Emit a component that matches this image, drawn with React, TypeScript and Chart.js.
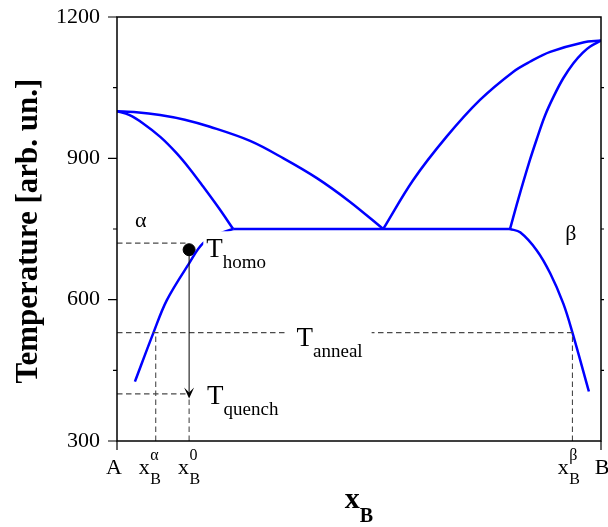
import { useEffect, useRef } from 'react';
import { Chart, registerables } from 'chart.js';

Chart.register(...registerables);

// Phase boundaries of the A–B eutectic system (x = mole fraction of B, y = temperature)
const liquidusLeft = [
  { x: 0, y: 1000 }, { x: 0.04, y: 998 }, { x: 0.089, y: 992 }, { x: 0.14, y: 982 },
  { x: 0.192, y: 967 }, { x: 0.275, y: 937 }, { x: 0.344, y: 900 }, { x: 0.413, y: 858 },
  { x: 0.481, y: 808 }, { x: 0.55, y: 750 },
];
const solidusLeft = [
  { x: 0, y: 1000 }, { x: 0.025, y: 992 }, { x: 0.054, y: 974 }, { x: 0.09, y: 945 },
  { x: 0.123, y: 911 }, { x: 0.15, y: 878 }, { x: 0.178, y: 840 }, { x: 0.21, y: 795 },
  { x: 0.24, y: 750 },
];
const solvusLeft = [
  { x: 0.037, y: 426 }, { x: 0.075, y: 529 }, { x: 0.103, y: 599 }, { x: 0.149, y: 677 },
  { x: 0.178, y: 720 }, { x: 0.216, y: 742 }, { x: 0.24, y: 750 },
];
const eutecticLine = [{ x: 0.24, y: 750 }, { x: 0.812, y: 750 }];
const liquidusRight = [
  { x: 0.55, y: 750 }, { x: 0.612, y: 854 }, { x: 0.681, y: 946 }, { x: 0.75, y: 1024 },
  { x: 0.819, y: 1084 }, { x: 0.853, y: 1105 }, { x: 0.895, y: 1126 }, { x: 0.963, y: 1146 },
  { x: 1, y: 1150 },
];
const solidusRight = [
  { x: 0.812, y: 750 }, { x: 0.829, y: 813 }, { x: 0.853, y: 896 }, { x: 0.867, y: 940 },
  { x: 0.884, y: 990 }, { x: 0.902, y: 1031 }, { x: 0.922, y: 1070 }, { x: 0.943, y: 1102 },
  { x: 0.962, y: 1124 }, { x: 0.977, y: 1137 }, { x: 1, y: 1150 },
];
const solvusRight = [
  { x: 0.812, y: 750 }, { x: 0.833, y: 743 }, { x: 0.867, y: 705 }, { x: 0.895, y: 656 },
  { x: 0.922, y: 592 }, { x: 0.941, y: 530 }, { x: 0.975, y: 405 },
];

// Heat-treatment path
const xAlpha = 0.08;
const xZero = 0.149;
const xBeta = 0.941;
const homoTemp = 720;
const homoPoint = [{ x: 0.149, y: 706 }];
const quenchTemp = 400;
const arrowTipTemp = 390;
const annealTemp = 530;

// Axis ticks
const yMajorTicks = [300, 600, 900, 1200];
const yMinorTicks = [450, 750, 1050];
const xTickLabels = [
  { value: 0, base: 'A', sub: '', sup: '', dx: -3 },
  { value: xAlpha, base: 'x', sub: 'B', sup: 'α', dx: -6 },
  { value: xZero, base: 'x', sub: 'B', sup: '0', dx: 0 },
  { value: xBeta, base: 'x', sub: 'B', sup: 'β', dx: -3.5 },
  { value: 1, base: 'B', sub: '', sup: '', dx: 1 },
];

const SERIF = '"Liberation Serif", "Times New Roman", serif';
const BLUE = '#0000ff';
const DASH = '#4a4a4a';

function drawScripted(
  ctx: CanvasRenderingContext2D, x: number, y: number,
  base: string, sub: string, sup: string,
  mainFont: string, scriptFont: string, align: 'left' | 'center',
  subDy: number, supDy: number, scriptGap = 0,
) {
  ctx.font = mainFont;
  const bw = ctx.measureText(base).width;
  ctx.font = scriptFont;
  const sw = Math.max(sub ? ctx.measureText(sub).width : 0, sup ? ctx.measureText(sup).width : 0);
  const total = bw + (sw ? sw + scriptGap : 0);
  const x0 = align === 'center' ? x - total / 2 : x;
  ctx.textAlign = 'left';
  ctx.textBaseline = 'alphabetic';
  ctx.font = mainFont;
  ctx.fillText(base, x0, y);
  ctx.font = scriptFont;
  if (sub) ctx.fillText(sub, x0 + bw + scriptGap, y + subDy);
  if (sup) ctx.fillText(sup, x0 + bw + scriptGap, y + supDy);
  return { left: x0, width: total };
}

const decorations = {
  id: 'phaseDecorations',
  afterDatasetsDraw(chart: any) {
    const { ctx, chartArea: a, scales } = chart;
    const xs = scales.x;
    const ys = scales.y;
    const px = (v: number) => xs.getPixelForValue(v);
    const py = (v: number) => ys.getPixelForValue(v);
    ctx.save();

    // quench arrow
    const ax = px(homoPoint[0].x);
    const tip = py(arrowTipTemp);
    ctx.strokeStyle = '#000';
    ctx.lineWidth = 1;
    ctx.beginPath();
    ctx.moveTo(ax, py(homoPoint[0].y));
    ctx.lineTo(ax, tip - 6);
    ctx.stroke();
    ctx.fillStyle = '#000';
    ctx.beginPath();
    ctx.moveTo(ax, tip);
    ctx.lineTo(ax - 5, tip - 11);
    ctx.lineTo(ax, tip - 6);
    ctx.lineTo(ax + 5, tip - 11);
    ctx.closePath();
    ctx.fill();

    // labels inside the plot, on white boxes
    const main = `27px ${SERIF}`;
    const script = `19px ${SERIF}`;
    const boxes = [
      { x: 0.1845, y: 690, base: 'T', sub: 'homo', pad: [3, 26, 2, 13] },
      { x: 0.371, y: 502, base: 'T', sub: 'anneal', pad: [11, 21, 9, 22] },
      { x: 0.186, y: 378, base: 'T', sub: 'quench', pad: [3, 19, 2, 13] },
    ];
    boxes.forEach((b) => {
      const bx = px(b.x);
      const by = py(b.y);
      ctx.font = main;
      const bw = ctx.measureText(b.base).width;
      ctx.font = script;
      const sw = ctx.measureText(b.sub).width;
      ctx.fillStyle = '#fff';
      ctx.fillRect(bx - b.pad[0], by - b.pad[1], bw + sw + b.pad[0] + b.pad[2], b.pad[1] + b.pad[3]);
      ctx.fillStyle = '#000';
      drawScripted(ctx, bx, by, b.base, b.sub, '', main, script, 'left', 11, 0);
    });

    ctx.font = `22px ${SERIF}`;
    ctx.textAlign = 'left';
    ctx.textBaseline = 'alphabetic';
    ctx.fillText('α', px(0.037), py(754));
    ctx.fillText('β', px(0.926), py(727));

    // frame
    ctx.strokeStyle = '#000';
    ctx.lineWidth = 1.5;
    ctx.strokeRect(a.left, a.top, a.right - a.left, a.bottom - a.top);

    // y ticks: long outward majors on the left, short minors; short ticks on the right
    ctx.lineWidth = 1.2;
    ctx.beginPath();
    yMajorTicks.forEach((t) => {
      const y = py(t);
      ctx.moveTo(a.left - 9, y); ctx.lineTo(a.left, y);
    });
    yMinorTicks.forEach((t) => {
      const y = py(t);
      ctx.moveTo(a.left - 4, y); ctx.lineTo(a.left, y);
    });
    [...yMajorTicks, ...yMinorTicks].forEach((t) => {
      if (t === 300 || t === 1200) return;
      const y = py(t);
      ctx.moveTo(a.right, y); ctx.lineTo(a.right + 3, y);
    });
    // x ticks at the pure components
    [0, 1].forEach((v) => {
      const x = px(v);
      ctx.moveTo(x, a.bottom); ctx.lineTo(x, a.bottom + 9);
    });
    ctx.stroke();

    // x tick labels with sub/superscripts
    ctx.fillStyle = '#000';
    xTickLabels.forEach((l) => {
      drawScripted(ctx, px(l.value) + l.dx, a.bottom + 33, l.base, l.sub, l.sup,
        `22px ${SERIF}`, `16px ${SERIF}`, 'center', 10, -14, 0.5);
    });

    // axis titles
    const cx = (a.left + a.right) / 2;
    drawScripted(ctx, cx, a.bottom + 67, 'x', 'B', '', `bold 30px ${SERIF}`, `bold 20px ${SERIF}`,
      'center', 14, 0);
    ctx.save();
    ctx.translate(29, (a.top + a.bottom) / 2 + 2);
    ctx.rotate(-Math.PI / 2);
    ctx.font = `bold 31px ${SERIF}`;
    ctx.textAlign = 'center';
    ctx.textBaseline = 'middle';
    ctx.fillText('Temperature [arb. un.]', 0, 0);
    ctx.restore();

    ctx.restore();
  },
};

const curve = (data: { x: number; y: number }[]) => ({
  data,
  borderColor: BLUE,
  borderWidth: 2.5,
  pointRadius: 0,
  showLine: true,
  fill: false,
  tension: 0.35,
});

const dashed = (data: { x: number; y: number }[]) => ({
  data,
  borderColor: DASH,
  borderWidth: 1.1,
  borderDash: [5.5, 3.5],
  pointRadius: 0,
  showLine: true,
  fill: false,
});

export default function App() {
  const ref = useRef<HTMLCanvasElement | null>(null);

  useEffect(() => {
    if (!ref.current) return;
    const chart = new Chart(ref.current, {
      type: 'scatter',
      data: {
        datasets: [
          dashed([{ x: 0, y: homoTemp }, { x: 0.147, y: homoTemp }]),
          dashed([{ x: 0, y: quenchTemp }, { x: xZero, y: quenchTemp }]),
          dashed([{ x: xZero, y: 300 }, { x: xZero, y: quenchTemp }]),
          dashed([{ x: 0, y: annealTemp }, { x: xBeta, y: annealTemp }]),
          dashed([{ x: xAlpha, y: 300 }, { x: xAlpha, y: annealTemp }]),
          dashed([{ x: xBeta, y: 300 }, { x: xBeta, y: annealTemp }]),
          curve(liquidusLeft),
          curve(solidusLeft),
          curve(solvusLeft),
          curve(eutecticLine),
          curve(liquidusRight),
          curve(solidusRight),
          curve(solvusRight),
          {
            data: homoPoint,
            pointRadius: 6,
            pointBackgroundColor: '#000',
            pointBorderColor: '#000',
            showLine: false,
          },
        ],
      },
      options: {
        responsive: false,
        animation: false,
        events: [],
        layout: { padding: { top: 17, right: 7, left: 0, bottom: 0 } },
        plugins: { legend: { display: false }, tooltip: { enabled: false } },
        scales: {
          x: {
            type: 'linear',
            min: 0,
            max: 1,
            ticks: { display: false },
            grid: { display: false, drawTicks: false },
            border: { display: false },
            afterFit: (s: any) => {
              s.height = 86;
              s.paddingLeft = 0; s.paddingRight = 0;
            },
          },
          y: {
            type: 'linear',
            min: 300,
            max: 1200,
            afterBuildTicks: (s: any) => { s.ticks = yMajorTicks.map((v) => ({ value: v })); },
            ticks: {
              font: { family: SERIF, size: 22 },
              color: '#000',
              padding: 17,
              callback: (v: any) => String(v),
            },
            grid: { display: false, drawTicks: false },
            border: { display: false },
            afterFit: (s: any) => {
              s.width = 117;
              s.paddingTop = 0; s.paddingBottom = 0;
            },
          },
        },
      },
      plugins: [decorations],
    });
    return () => chart.destroy();
  }, []);

  return (
    <div style={{ position: 'fixed', left: 0, top: 0, width: 608, height: 527, background: '#fff' }}>
      <canvas ref={ref} width={608} height={527} style={{ display: 'block' }} />
    </div>
  );
}
